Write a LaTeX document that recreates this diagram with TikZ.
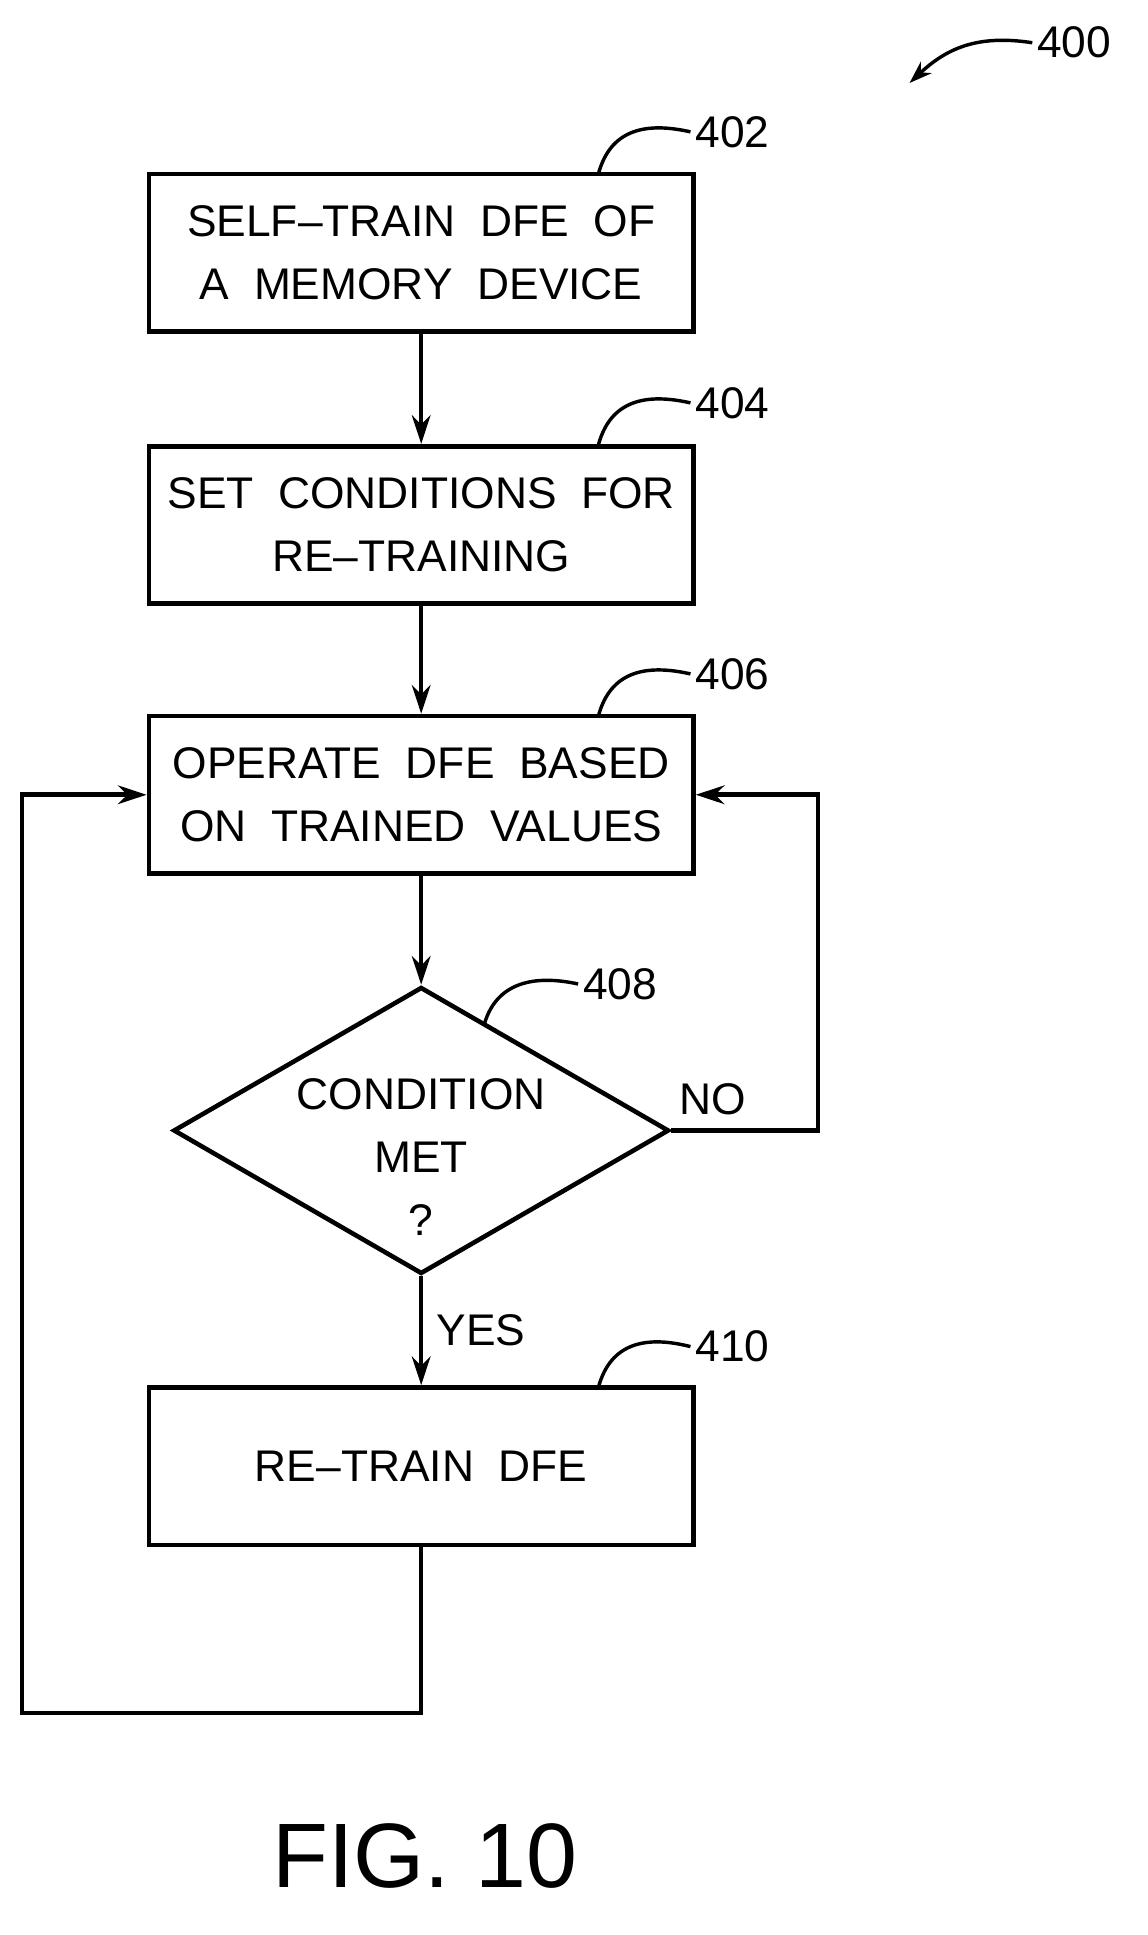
\documentclass[tikz,border=0pt]{standalone}
\usepackage{fontspec}
\setmainfont{Liberation Sans}
\usetikzlibrary{arrows.meta,positioning,shapes.geometric}

\tikzset{
  line/.style={line width=3.2pt},
  flow/.style={line, -{Stealth[length=20pt,width=13pt]}},
  block/.style={draw, line width=3.2pt, minimum width=13.38cm, minimum height=3.87cm,
    align=center, font=\fontsize{31}{44}\selectfont},
  test/.style={draw, diamond, line width=3.2pt, minimum width=12.18cm,
    minimum height=7.05cm, inner sep=0pt},
  txt/.style={font=\fontsize{31}{44}\selectfont, align=center},
  ref/.style={font=\fontsize{31}{36}\selectfont},
  lead/.style={line width=2.4pt},
}

\begin{document}
\begin{tikzpicture}[x=0.03cm,y=-0.03cm]
  \useasboundingbox (0,0) rectangle (940,1585);
  % boxes
  \node[block] (B1) at (345,207) {SELF--TRAIN\ \ DFE\ \ OF\\A\ \ MEMORY\ \ DEVICE};
  \node[block] (B2) at (345,430) {SET\ \ CONDITIONS\ \ FOR\\RE--TRAINING};
  \node[block] (B3) at (345,651) {OPERATE\ \ DFE\ \ BASED\\ON\ \ TRAINED\ \ VALUES};
  \node[test] (D1) at (345,926) {};
  \node[txt] (D1t) at (345,948) {CONDITION\\MET\\?};
  \node[block] (B4) at (345,1201) {RE--TRAIN\ \ DFE};
  % corners of the loops
  \coordinate (L1) at (345,1403);
  \coordinate (L2) at (18,1403);
  \coordinate (L3) at (18,651);
  \coordinate (R1) at (670,926);
  \coordinate (R2) at (670,651);
  % connectors
  \draw[flow] (B1) -- (B2);
  \draw[flow] (B2) -- (B3);
  \draw[flow] (B3) -- (D1);
  \draw[flow] (D1) -- node[ref, right, xshift=6pt] (yes) {YES} (B4);
  \draw[flow] (B4.south) -- (L1) -- (L2) -- (L3) -- (B3.west);
  \draw[flow] (D1.east) -- (R1) -- (R2) -- (B3.east);
  \node[ref] (no) at (584,900) {NO};
  % reference numerals
  \node[ref] (n402) at (600,108) {402};
  \node[ref] (n404) at (600,330) {404};
  \node[ref] (n406) at (600,552) {406};
  \node[ref] (n408) at (508,806) {408};
  \node[ref] (n410) at (600,1103) {410};
  \node[ref] (n400) at (880,35) {400};
  \draw[lead] (490,143) .. controls (500,105) and (530,100) .. (n402.west);
  \draw[lead] (490,365) .. controls (500,327) and (530,322) .. (n404.west);
  \draw[lead] (490,587) .. controls (500,549) and (530,544) .. (n406.west);
  \draw[lead] (397,838) .. controls (407,805) and (437,798) .. (n408.west);
  \draw[lead] (490,1137) .. controls (500,1099) and (530,1094) .. (n410.west);
  \draw[lead, -{Stealth[length=16pt,width=11pt]}] (n400.west) .. controls (800,28) and (775,40) .. (745,68);
  \node[font=\fontsize{64}{70}\selectfont] (fig) at (348,1520) {FIG. 10};
\end{tikzpicture}
\end{document}
